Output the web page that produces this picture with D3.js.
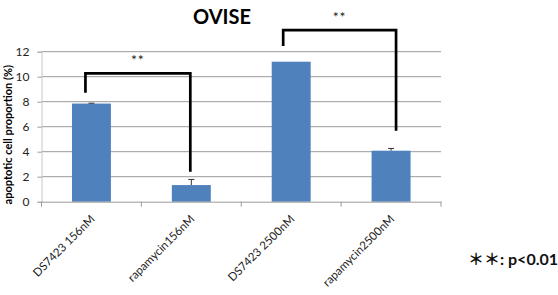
<!DOCTYPE html>
<html>
<head>
<meta charset="utf-8">
<script src="https://cdn.jsdelivr.net/npm/d3@7"></script>
<style>
  body { margin: 0; background: #fff; }
  text { font-family: Lato, "Open Sans", sans-serif; }
</style>
</head>
<body>
<svg id="chart" width="558" height="295"></svg>
<script>
const categories = ['DS7423 156nM', 'rapamycin156nM', 'DS7423 2500nM', 'rapamycin2500nM'];
const values = [7.85, 1.33, 11.2, 4.08];
const errors = [0.03, 0.45, 0, 0.18];
const yTicks = [0, 2, 4, 6, 8, 10, 12];
// significance brackets: bar indices, top level, leg bottoms (value units)
const brackets = [
  {from: 0, to: 1, top: 10.27, leftEnd: 8.72, rightEnd: 2.4, dl: -6, dr: -1},
  {from: 2, to: 3, top: 13.73, leftEnd: 12.46, rightEnd: 5.68, dl: -8, dr: 5}
];

const svg = d3.select('#chart'),
  margin = {left: 41.5, right: 117, top: 51.7, bottom: 93.3},
  width = +svg.attr('width'),
  height = +svg.attr('height');

const x = d3.scaleBand()
  .domain(d3.range(categories.length))
  .range([margin.left, width - margin.right])
  .paddingInner(0.61)
  .paddingOuter(0.305);

const band = d3.scaleBand()
  .domain(d3.range(categories.length))
  .range([margin.left, width - margin.right]);

const y = d3.scaleLinear()
  .domain([0, 12])
  .range([height - margin.bottom, margin.top]);

// gridlines
svg.append('g')
  .selectAll('line')
  .data(yTicks.slice(1))
  .enter()
  .append('line')
  .attr('x1', margin.left)
  .attr('x2', width - margin.right)
  .attr('y1', d => y(d))
  .attr('y2', d => y(d))
  .attr('stroke', '#9a9a9a')
  .attr('stroke-width', 1);

// y axis
const yAxis = svg.append('g')
  .attr('transform', `translate(${margin.left},0)`)
  .call(d3.axisLeft(y).tickValues(yTicks).tickSize(4).tickPadding(8));
yAxis.select('.domain').attr('stroke', '#c8c8c8');
yAxis.selectAll('.tick line').attr('stroke', '#9a9a9a');
yAxis.selectAll('.tick text')
  .attr('font-family', 'Lato, sans-serif')
  .attr('font-size', 12)
  .attr('fill', '#222');

// bars
svg.append('g')
  .selectAll('rect')
  .data(values)
  .enter()
  .append('rect')
  .attr('x', (d, i) => x(i))
  .attr('y', d => y(d))
  .attr('width', x.bandwidth())
  .attr('height', d => y(0) - y(d))
  .attr('fill', '#4f81bd');

// x axis
const xAxis = svg.append('g')
  .attr('transform', `translate(0,${y(0)})`)
  .call(d3.axisBottom(band).tickSize(0).tickFormat(''));
xAxis.select('.domain').attr('stroke', '#9a9a9a');
svg.append('g')
  .selectAll('line')
  .data(d3.range(categories.length + 1))
  .enter()
  .append('line')
  .attr('x1', i => i < categories.length ? band(i) : band(i - 1) + band.bandwidth())
  .attr('x2', i => i < categories.length ? band(i) : band(i - 1) + band.bandwidth())
  .attr('y1', y(0))
  .attr('y2', y(0) + 5)
  .attr('stroke', '#9a9a9a');

svg.append('g')
  .selectAll('text')
  .data(categories)
  .enter()
  .append('text')
  .attr('transform', (d, i) => `translate(${x(i) + x.bandwidth() / 2 + 4},${y(0) + 18}) rotate(-45)`)
  .attr('text-anchor', 'end')
  .attr('font-size', 11.5)
  .attr('fill', '#222')
  .text(d => d);

// error bars
const errG = svg.append('g').attr('stroke', '#333').attr('stroke-width', 1);
values.forEach((v, i) => {
  if (!errors[i]) return;
  const cx = x(i) + x.bandwidth() / 2;
  errG.append('line').attr('x1', cx).attr('x2', cx).attr('y1', y(v)).attr('y2', y(v + errors[i]));
  errG.append('line').attr('x1', cx - 3).attr('x2', cx + 3).attr('y1', y(v + errors[i])).attr('y2', y(v + errors[i]));
});

// significance brackets
brackets.forEach(b => {
  const xl = x(b.from) + x.bandwidth() / 2 + b.dl,
    xr = x(b.to) + x.bandwidth() / 2 + b.dr;
  svg.append('path')
    .attr('d', `M${xl},${y(b.leftEnd)}V${y(b.top)}H${xr}V${y(b.rightEnd)}`)
    .attr('fill', 'none')
    .attr('stroke', '#000')
    .attr('stroke-width', 2.7);
  svg.append('text')
    .attr('x', (xl + xr) / 2)
    .attr('y', y(b.top) - 8)
    .attr('text-anchor', 'middle')
    .attr('font-size', 14)
    .attr('letter-spacing', 1)
    .attr('fill', '#222')
    .text('**');
});

// title
svg.append('text')
  .attr('x', 222)
  .attr('y', 24)
  .attr('text-anchor', 'middle')
  .attr('font-size', 20)
  .attr('font-weight', 'bold')
  .attr('fill', '#000')
  .text('OVISE');

// y label
svg.append('text')
  .attr('transform', `translate(12,${(y(0) + y(12)) / 2 + 8}) rotate(-90)`)
  .attr('text-anchor', 'middle')
  .attr('font-size', 11)
  .attr('font-weight', 'bold')
  .attr('fill', '#000')
  .text('apoptotic cell proportion (%)');

// significance note
svg.append('text')
  .attr('x', 468)
  .attr('y', 265)
  .attr('font-size', 16)
  .attr('font-weight', 'bold')
  .attr('fill', '#111')
  .style('font-family', 'Lato, "Noto Sans CJK JP", sans-serif')
  .text('＊＊: p<0.01');
</script>
</body>
</html>
